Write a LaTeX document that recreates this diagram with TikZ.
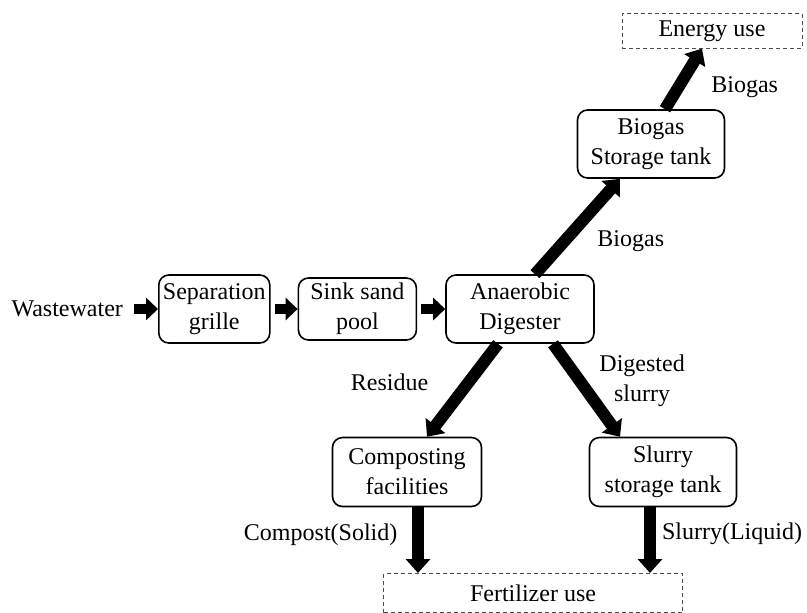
\documentclass[tikz,border=0pt]{standalone}
\usepackage{fontspec}
\setmainfont{Liberation Serif}
\usetikzlibrary{arrows.meta, positioning}

\begin{document}
\begin{tikzpicture}[
    x=0.5pt, y=-0.5pt,
    node distance=14pt,
    font=\fontsize{12}{15}\selectfont,
    box/.style={rectangle, draw, line width=0.8pt, rounded corners=5pt, align=center, inner sep=2pt},
    usebox/.style={rectangle, draw=black!70, dashed, dash pattern=on 2pt off 1.5pt, line width=0.5pt, align=center},
    lbl/.style={align=center},
    flow/.style={-{Triangle[width=11pt, length=6pt]}, line width=5pt},
    bigflow/.style={-{Triangle[width=12pt, length=7pt]}, line width=6pt},
]
\useasboundingbox (0,0) rectangle (807,612);

% main line
\node[box, minimum width=74pt, minimum height=34pt] (digester) at (520,309) {Anaerobic\\Digester};
\node[box, minimum width=59pt, minimum height=31pt, left=14pt of digester] (sink) {Sink sand\\pool};
\node[box, minimum width=55.5pt, minimum height=34pt, left=13.5pt of sink] (grille) {Separation\\grille};
\node[lbl, left=14pt of grille] (wastewater) {Wastewater};

% biogas branch
\node[box, minimum width=73.5pt, minimum height=34pt] (gastank) at (651,144) {Biogas\\Storage tank};
\node[usebox, minimum width=90pt, minimum height=17pt] (energy) at (712,31) {Energy use};

% residue and slurry branch
\node[box, minimum width=74.5pt, minimum height=34.5pt] (compost) at (407,472) {Composting\\facilities};
\node[box, minimum width=73.5pt, minimum height=34.5pt] (slurrytank) at (663,472) {Slurry\\storage tank};
\node[usebox, minimum width=149.5pt, minimum height=19.5pt] (fertilizer) at (533,593) {Fertilizer use};

% arrows
\draw[flow, shorten <=2pt] (wastewater) -- (grille);
\draw[flow, shorten <=2pt] (grille) -- (sink);
\draw[flow, shorten <=2pt] (sink) -- (digester);
\draw[bigflow] ([xshift=7.5pt]digester.north) -- node[pos=0.35, right=10pt]{Biogas} ([xshift=-15.5pt]gastank.south);
\draw[bigflow] ([xshift=7pt]gastank.north) -- node[pos=0.37, right=10pt]{Biogas} ([xshift=-5pt]energy.south);
\draw[bigflow] ([xshift=-11pt]digester.south) -- node[pos=0.41, left=14pt]{Residue} ([xshift=10pt]compost.north);
\draw[bigflow] ([xshift=16.5pt]digester.south) -- node[pos=0.4, right=3.5pt, lbl]{Digested\\slurry} ([xshift=-21.5pt]slurrytank.north);
\draw[bigflow] ([xshift=5.5pt]compost.south) -- node[pos=0.42, left=4pt]{Compost(Solid)} ([xshift=5.5pt]compost.south |- fertilizer.north);
\draw[bigflow] ([xshift=-6.5pt]slurrytank.south) -- node[pos=0.4, right=1pt, inner sep=2pt]{Slurry(Liquid)} ([xshift=-6.5pt]slurrytank.south |- fertilizer.north);

\end{tikzpicture}
\end{document}
